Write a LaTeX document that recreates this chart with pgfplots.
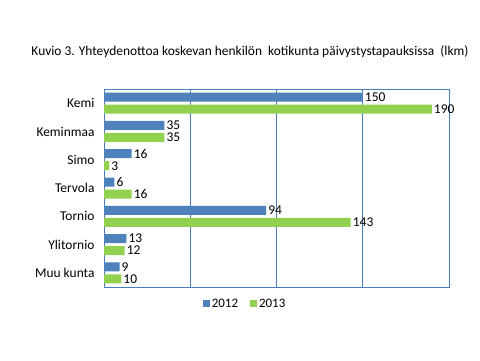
\documentclass[border=0pt]{standalone}
\usepackage{pgfplots}
\pgfplotsset{compat=1.18}
\usepackage{fontspec}
\setmainfont{Carlito}
\definecolor{b12}{HTML}{4F81BD}
\definecolor{g13}{HTML}{92D050}
\definecolor{frm}{HTML}{4A7EBB}
\begin{document}
\begin{tikzpicture}[x=1bp,y=1bp]
\path[use as bounding box] (0,0) rectangle (480,360);
\node[font=\fontsize{13.5}{16}\selectfont] at (250,308) {Kuvio\ 3. Yhteydenottoa koskevan henkilön\ \ kotikunta päivystystapauksissa\ \ (lkm)};
\begin{axis}[at={(104bp,73bp)}, anchor=south west, scale only axis,
  width=345bp, height=198bp,
  xbar, xmin=0, xmax=200, ymin=-0.5, ymax=6.5, y dir=reverse,
  ytick={0,...,6},
  yticklabels={Kemi,Keminmaa,Simo,Tervola,Tornio,Ylitornio,Muu kunta},
  yticklabel style={font=\fontsize{13.5}{16}\selectfont, xshift=-6bp},
  xtick={50,100,150}, xticklabels={},
  xmajorgrids, major grid style={frm, line width=0.75pt},
  axis line style={frm, line width=0.75pt},
  major tick length=0pt,
  bar width=9bp,
  nodes near coords,
  nodes near coords style={font=\fontsize{13.5}{16}\selectfont, black, anchor=west, inner sep=2pt,
    /pgf/number format/assume math mode=true},
  legend columns=2,
  legend style={at={(0.409,-0.085)}, anchor=center, draw=none, font=\fontsize{13}{15}\selectfont,
    /tikz/every even column/.append style={column sep=10bp}},
  legend image code/.code={\fill[#1] (0bp,-3.5bp) rectangle (7bp,3.5bp);},
]
\addplot[fill=b12, draw=none, bar shift=6bp] coordinates {(150,0) (35,1) (16,2) (6,3) (94,4) (13,5) (9,6)};
\addplot[fill=g13, draw=none, bar shift=-6bp] coordinates {(190,0) (35,1) (3,2) (16,3) (143,4) (12,5) (10,6)};
\legend{2012,2013}
\end{axis}
\end{tikzpicture}
\end{document}
